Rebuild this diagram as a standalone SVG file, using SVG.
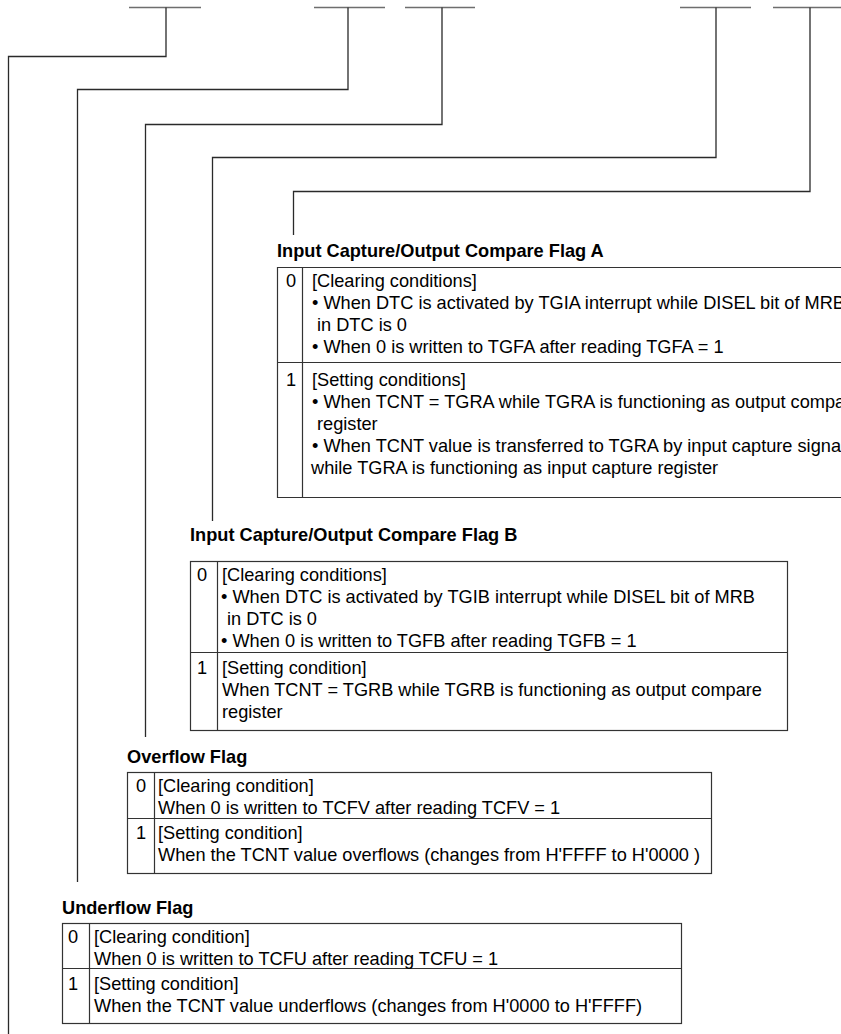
<svg xmlns="http://www.w3.org/2000/svg" width="841" height="1034" viewBox="0 0 841 1034">
<style>
.bar{stroke:#6e6e6e;stroke-width:1.6;fill:none}
.con{stroke:#2a2a2a;stroke-width:1.3;fill:none}
.tb{stroke:#333;stroke-width:1.2;fill:none}
.lbl{font-family:"Liberation Sans",Arial,sans-serif;font-size:18.2px;font-weight:bold;fill:#000}
.t{font-family:"Liberation Sans",Arial,sans-serif;font-size:18.2px;fill:#000}
</style>
<rect width="841" height="1034" fill="#fff"/>
<g id="connectors">
<path class="bar" d="M129,7.5H201M314,7.5H385M405,7.5H475M680,7.5H751M773,7.5H841"/>
<path class="con" d="M166,7.5V56.5H8.5V1034"/>
<path class="con" d="M348,7.5V89.5H77.5V882"/>
<path class="con" d="M442,7.5V124.5H145.5V737"/>
<path class="con" d="M716,7.5V157.5H212.5V521"/>
<path class="con" d="M810,7.5V191.5H293.5V235"/>
</g>
<g id="flagA">
<text class="lbl" x="277" y="257">Input Capture/Output Compare Flag A</text>
<path class="tb" d="M845,267.5H277.5V497.5H845M277.5,362.5H845M302.5,267.5V497.5"/>
<text class="t" x="286" y="287">0</text>
<text class="t" x="312" y="287">[Clearing conditions]</text>
<text class="t" x="312" y="309">• When DTC is activated by TGIA interrupt while DISEL bit of MRB</text>
<text class="t" x="317" y="331">in DTC is 0</text>
<text class="t" x="312" y="353">• When 0 is written to TGFA after reading TGFA = 1</text>
<text class="t" x="286" y="386">1</text>
<text class="t" x="312" y="386">[Setting conditions]</text>
<text class="t" x="312" y="408">• When TCNT = TGRA while TGRA is functioning as output compare</text>
<text class="t" x="317" y="430">register</text>
<text class="t" x="312" y="452">• When TCNT value is transferred to TGRA by input capture signal</text>
<text class="t" x="311" y="474">while TGRA is functioning as input capture register</text>
</g>
<g id="flagB">
<text class="lbl" x="190" y="541">Input Capture/Output Compare Flag B</text>
<rect class="tb" x="190.5" y="561.5" width="597" height="169"/>
<path class="tb" d="M190.5,652.5H787.5M217.5,561.5V730.5"/>
<text class="t" x="197" y="581">0</text>
<text class="t" x="222" y="581">[Clearing conditions]</text>
<text class="t" x="221" y="603">• When DTC is activated by TGIB interrupt while DISEL bit of MRB</text>
<text class="t" x="227" y="625">in DTC is 0</text>
<text class="t" x="221" y="647">• When 0 is written to TGFB after reading TGFB = 1</text>
<text class="t" x="197" y="674">1</text>
<text class="t" x="222" y="674">[Setting condition]</text>
<text class="t" x="222" y="696">When TCNT = TGRB while TGRB is functioning as output compare</text>
<text class="t" x="222" y="718">register</text>
</g>
<g id="overflow">
<text class="lbl" x="127" y="763">Overflow Flag</text>
<rect class="tb" x="127.5" y="772.5" width="584" height="101"/>
<path class="tb" d="M127.5,818.5H711.5M154.5,772.5V873.5"/>
<text class="t" x="136" y="792">0</text>
<text class="t" x="158" y="792">[Clearing condition]</text>
<text class="t" x="158" y="814">When 0 is written to TCFV after reading TCFV = 1</text>
<text class="t" x="136" y="839">1</text>
<text class="t" x="158" y="839">[Setting condition]</text>
<text class="t" x="158" y="861">When the TCNT value overflows (changes from H'FFFF to H'0000 )</text>
</g>
<g id="underflow">
<text class="lbl" x="62" y="914">Underflow Flag</text>
<rect class="tb" x="62.5" y="923.5" width="619" height="100"/>
<path class="tb" d="M62.5,968.5H681.5M89.5,923.5V1023.5"/>
<text class="t" x="68" y="943">0</text>
<text class="t" x="94" y="943">[Clearing condition]</text>
<text class="t" x="94" y="965">When 0 is written to TCFU after reading TCFU = 1</text>
<text class="t" x="68" y="990">1</text>
<text class="t" x="94" y="990">[Setting condition]</text>
<text class="t" x="94" y="1012">When the TCNT value underflows (changes from H'0000 to H'FFFF)</text>
</g>
</svg>
